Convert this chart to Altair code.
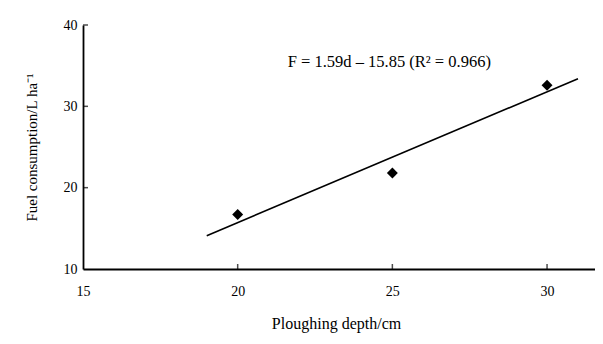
import altair as alt
import pandas as pd

depth = [20, 25, 30]
fuel = [16.7, 21.8, 32.6]
fit_depth = [19.0, 31.0]
fit_fuel = [14.1, 33.4]
x_ticks = [20, 25, 30]
y_ticks = [20, 30, 40]
equation = "F  = 1.59d \u2013 15.85 (R\u00b2 = 0.966)"
eq_pos = [24.9, 35.4]

pts = pd.DataFrame({"d": depth, "F": fuel})
fit = pd.DataFrame({"d": fit_depth, "F": fit_fuel})
xt = pd.DataFrame({"d": x_ticks})
yt = pd.DataFrame({"F": y_ticks})
eq = pd.DataFrame({"d": [eq_pos[0]], "F": [eq_pos[1]], "t": [equation]})

font = "Liberation Serif"
xs = alt.Scale(domain=[15, 31.55], nice=False, zero=False)
ys = alt.Scale(domain=[10, 40], nice=False, zero=False)

xaxis = alt.Axis(values=[15, 20, 25, 30], ticks=False, labelFont=font, labelFontSize=14,
                 labelColor="black", labelPadding=15, title="Ploughing depth/cm",
                 titleFont=font, titleFontSize=16, titleFontWeight="normal", titleColor="black",
                 titlePadding=17, titleX=253, domainColor="black", domainWidth=1.8, grid=False, labelFlush=False)
yaxis = alt.Axis(values=[10, 20, 30, 40], ticks=False, labelFont=font, labelFontSize=14,
                 labelColor="black", labelPadding=6, title="Fuel consumption/L ha\u207b\u00b9",
                 titleFont=font, titleFontSize=15, titleFontWeight="normal", titleColor="black",
                 titlePadding=24, domainColor="black", domainWidth=1.8, grid=False, labelFlush=False)

base_pts = alt.Chart(pts).mark_point(shape="diamond", filled=True, color="black", size=120, opacity=1).encode(
    x=alt.X("d:Q", scale=xs, axis=xaxis),
    y=alt.Y("F:Q", scale=ys, axis=yaxis),
)
line = alt.Chart(fit).mark_line(color="black", strokeWidth=1.6).encode(
    x=alt.X("d:Q", scale=xs), y=alt.Y("F:Q", scale=ys)
)
xtick = alt.Chart(xt).mark_tick(color="black", orient="vertical", size=5, thickness=1.5, yOffset=-2.5).encode(
    x=alt.X("d:Q", scale=xs), y=alt.datum(10)
)
ytick = alt.Chart(yt).mark_tick(color="black", orient="horizontal", size=5, thickness=1.5, xOffset=2.5).encode(
    y=alt.Y("F:Q", scale=ys), x=alt.datum(15)
)
text = alt.Chart(eq).mark_text(font=font, fontSize=16.5, color="black").encode(
    x=alt.X("d:Q", scale=xs), y=alt.Y("F:Q", scale=ys), text="t:N"
)

chart = alt.layer(line, base_pts, xtick, ytick, text).properties(
    width=512, height=244,
    autosize=alt.AutoSizeParams(type="none"),
    padding={"left": 75, "top": 17, "right": 0, "bottom": 70},
    background="white",
).configure_view(stroke=None)

chart.save("out.html", embed_options={"renderer": "svg", "actions": False})
